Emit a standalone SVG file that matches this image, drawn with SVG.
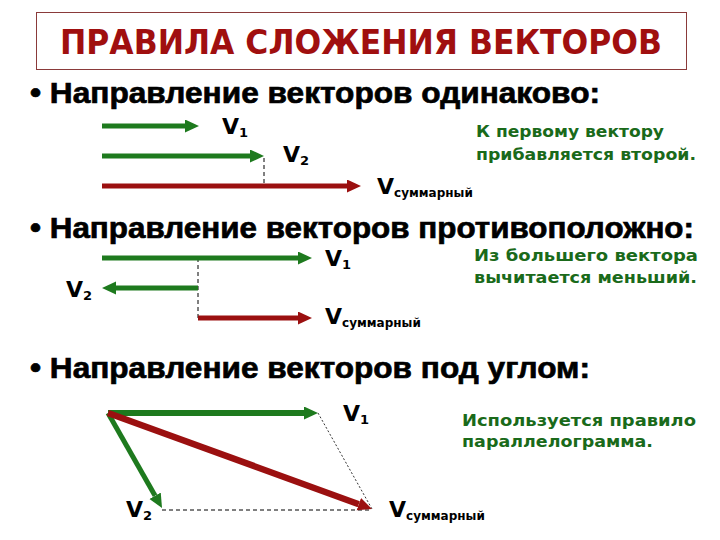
<svg xmlns="http://www.w3.org/2000/svg" width="720" height="540" viewBox="0 0 720 540">
<style>
.t{font-family:"DejaVu Sans","Liberation Sans",Arial,sans-serif;font-weight:bold}
.title{font-size:33px;fill:#A00F0F}
.head{font-family:"Liberation Sans",Arial,sans-serif;font-weight:bold;font-size:30px;fill:#000;stroke:#000;stroke-width:0.7}
.note{font-size:16px;fill:#1A6A1A}
.v{font-size:22px;fill:#000}
.sub{font-size:13px}
.subw{font-size:12px}
.g{stroke:#1E7A1E;fill:none}
.r{stroke:#9B1010;fill:none}
.dash{stroke:#000;stroke-width:1;fill:none;stroke-dasharray:4,3}
</style>
<defs>
<marker id="hg" markerUnits="userSpaceOnUse" markerWidth="14" markerHeight="14" refX="0" refY="6.5" orient="auto"><path d="M0,0 L14,6.5 L0,13 z" fill="#1E7A1E"/></marker>
<marker id="hr" markerUnits="userSpaceOnUse" markerWidth="14" markerHeight="14" refX="0" refY="6.5" orient="auto"><path d="M0,0 L14,6.5 L0,13 z" fill="#9B1010"/></marker>
</defs>
<rect width="720" height="540" fill="#fff"/>
<g id="title">
<rect x="36.5" y="12.5" width="650" height="57" fill="#fff" stroke="#8A3A3A" stroke-width="1"/>
<text class="t title" x="361" y="54" text-anchor="middle" textLength="602" lengthAdjust="spacingAndGlyphs">ПРАВИЛА СЛОЖЕНИЯ ВЕКТОРОВ</text>
</g>
<g id="headings">
<text class="head" x="30" y="103" textLength="570" lengthAdjust="spacingAndGlyphs">• Направление векторов одинаково:</text>
<text class="head" x="30" y="238" textLength="664" lengthAdjust="spacingAndGlyphs">• Направление векторов противоположно:</text>
<text class="head" x="30" y="378" textLength="560" lengthAdjust="spacingAndGlyphs">• Направление векторов под углом:</text>
</g>
<g id="notes">
<text class="t note" x="476" y="137" textLength="188" lengthAdjust="spacingAndGlyphs">К первому вектору</text>
<text class="t note" x="476" y="160" textLength="220" lengthAdjust="spacingAndGlyphs">прибавляется второй.</text>
<text class="t note" x="474" y="261" textLength="224" lengthAdjust="spacingAndGlyphs">Из большего вектора</text>
<text class="t note" x="474" y="283" textLength="223" lengthAdjust="spacingAndGlyphs">вычитается меньший.</text>
<text class="t note" x="462" y="426" textLength="234" lengthAdjust="spacingAndGlyphs">Используется правило</text>
<text class="t note" x="462" y="447" textLength="191" lengthAdjust="spacingAndGlyphs">параллелограмма.</text>
</g>
<g id="labels">
<text class="t v" x="222" y="134">V<tspan class="sub" dy="3">1</tspan></text>
<text class="t v" x="283" y="162">V<tspan class="sub" dy="3">2</tspan></text>
<text class="t v" x="377" y="194">V<tspan class="subw" dy="3">суммарный</tspan></text>
<text class="t v" x="325" y="266">V<tspan class="sub" dy="3">1</tspan></text>
<text class="t v" x="66" y="297">V<tspan class="sub" dy="3">2</tspan></text>
<text class="t v" x="325" y="324">V<tspan class="subw" dy="3">суммарный</tspan></text>
<text class="t v" x="343" y="421">V<tspan class="sub" dy="3">1</tspan></text>
<text class="t v" x="126" y="517">V<tspan class="sub" dy="3">2</tspan></text>
<text class="t v" x="389" y="517">V<tspan class="subw" dy="3">суммарный</tspan></text>
</g>
<g id="connectors">
<line class="dash" x1="264" y1="158" x2="264" y2="184"/>
<line class="dash" x1="198" y1="258" x2="198" y2="318"/>
<line class="dash" x1="162" y1="510" x2="372" y2="510" stroke-dasharray="8,4"/>
<line x1="318" y1="413" x2="372" y2="509" stroke="#000" stroke-width="0.8" stroke-dasharray="2,2"/>
<line class="g" x1="102" y1="126" x2="185" y2="126" stroke-width="5" marker-end="url(#hg)"/>
<line class="g" x1="102" y1="156" x2="250" y2="156" stroke-width="5" marker-end="url(#hg)"/>
<line class="r" x1="102" y1="186" x2="347" y2="186" stroke-width="5" marker-end="url(#hr)"/>
<line class="g" x1="102" y1="258" x2="298" y2="258" stroke-width="5" marker-end="url(#hg)"/>
<line class="g" x1="198" y1="288" x2="116" y2="288" stroke-width="5" marker-end="url(#hg)"/>
<line class="r" x1="198" y1="318" x2="298" y2="318" stroke-width="5" marker-end="url(#hr)"/>
<line class="g" x1="108" y1="413" x2="304" y2="413" stroke-width="6" marker-end="url(#hg)"/>
<line class="g" x1="108" y1="413" x2="155.1" y2="495.8" stroke-width="5" marker-end="url(#hg)"/>
<line class="r" x1="108" y1="413" x2="358.8" y2="504.2" stroke-width="6.5" marker-end="url(#hr)"/>
</g>
</svg>
